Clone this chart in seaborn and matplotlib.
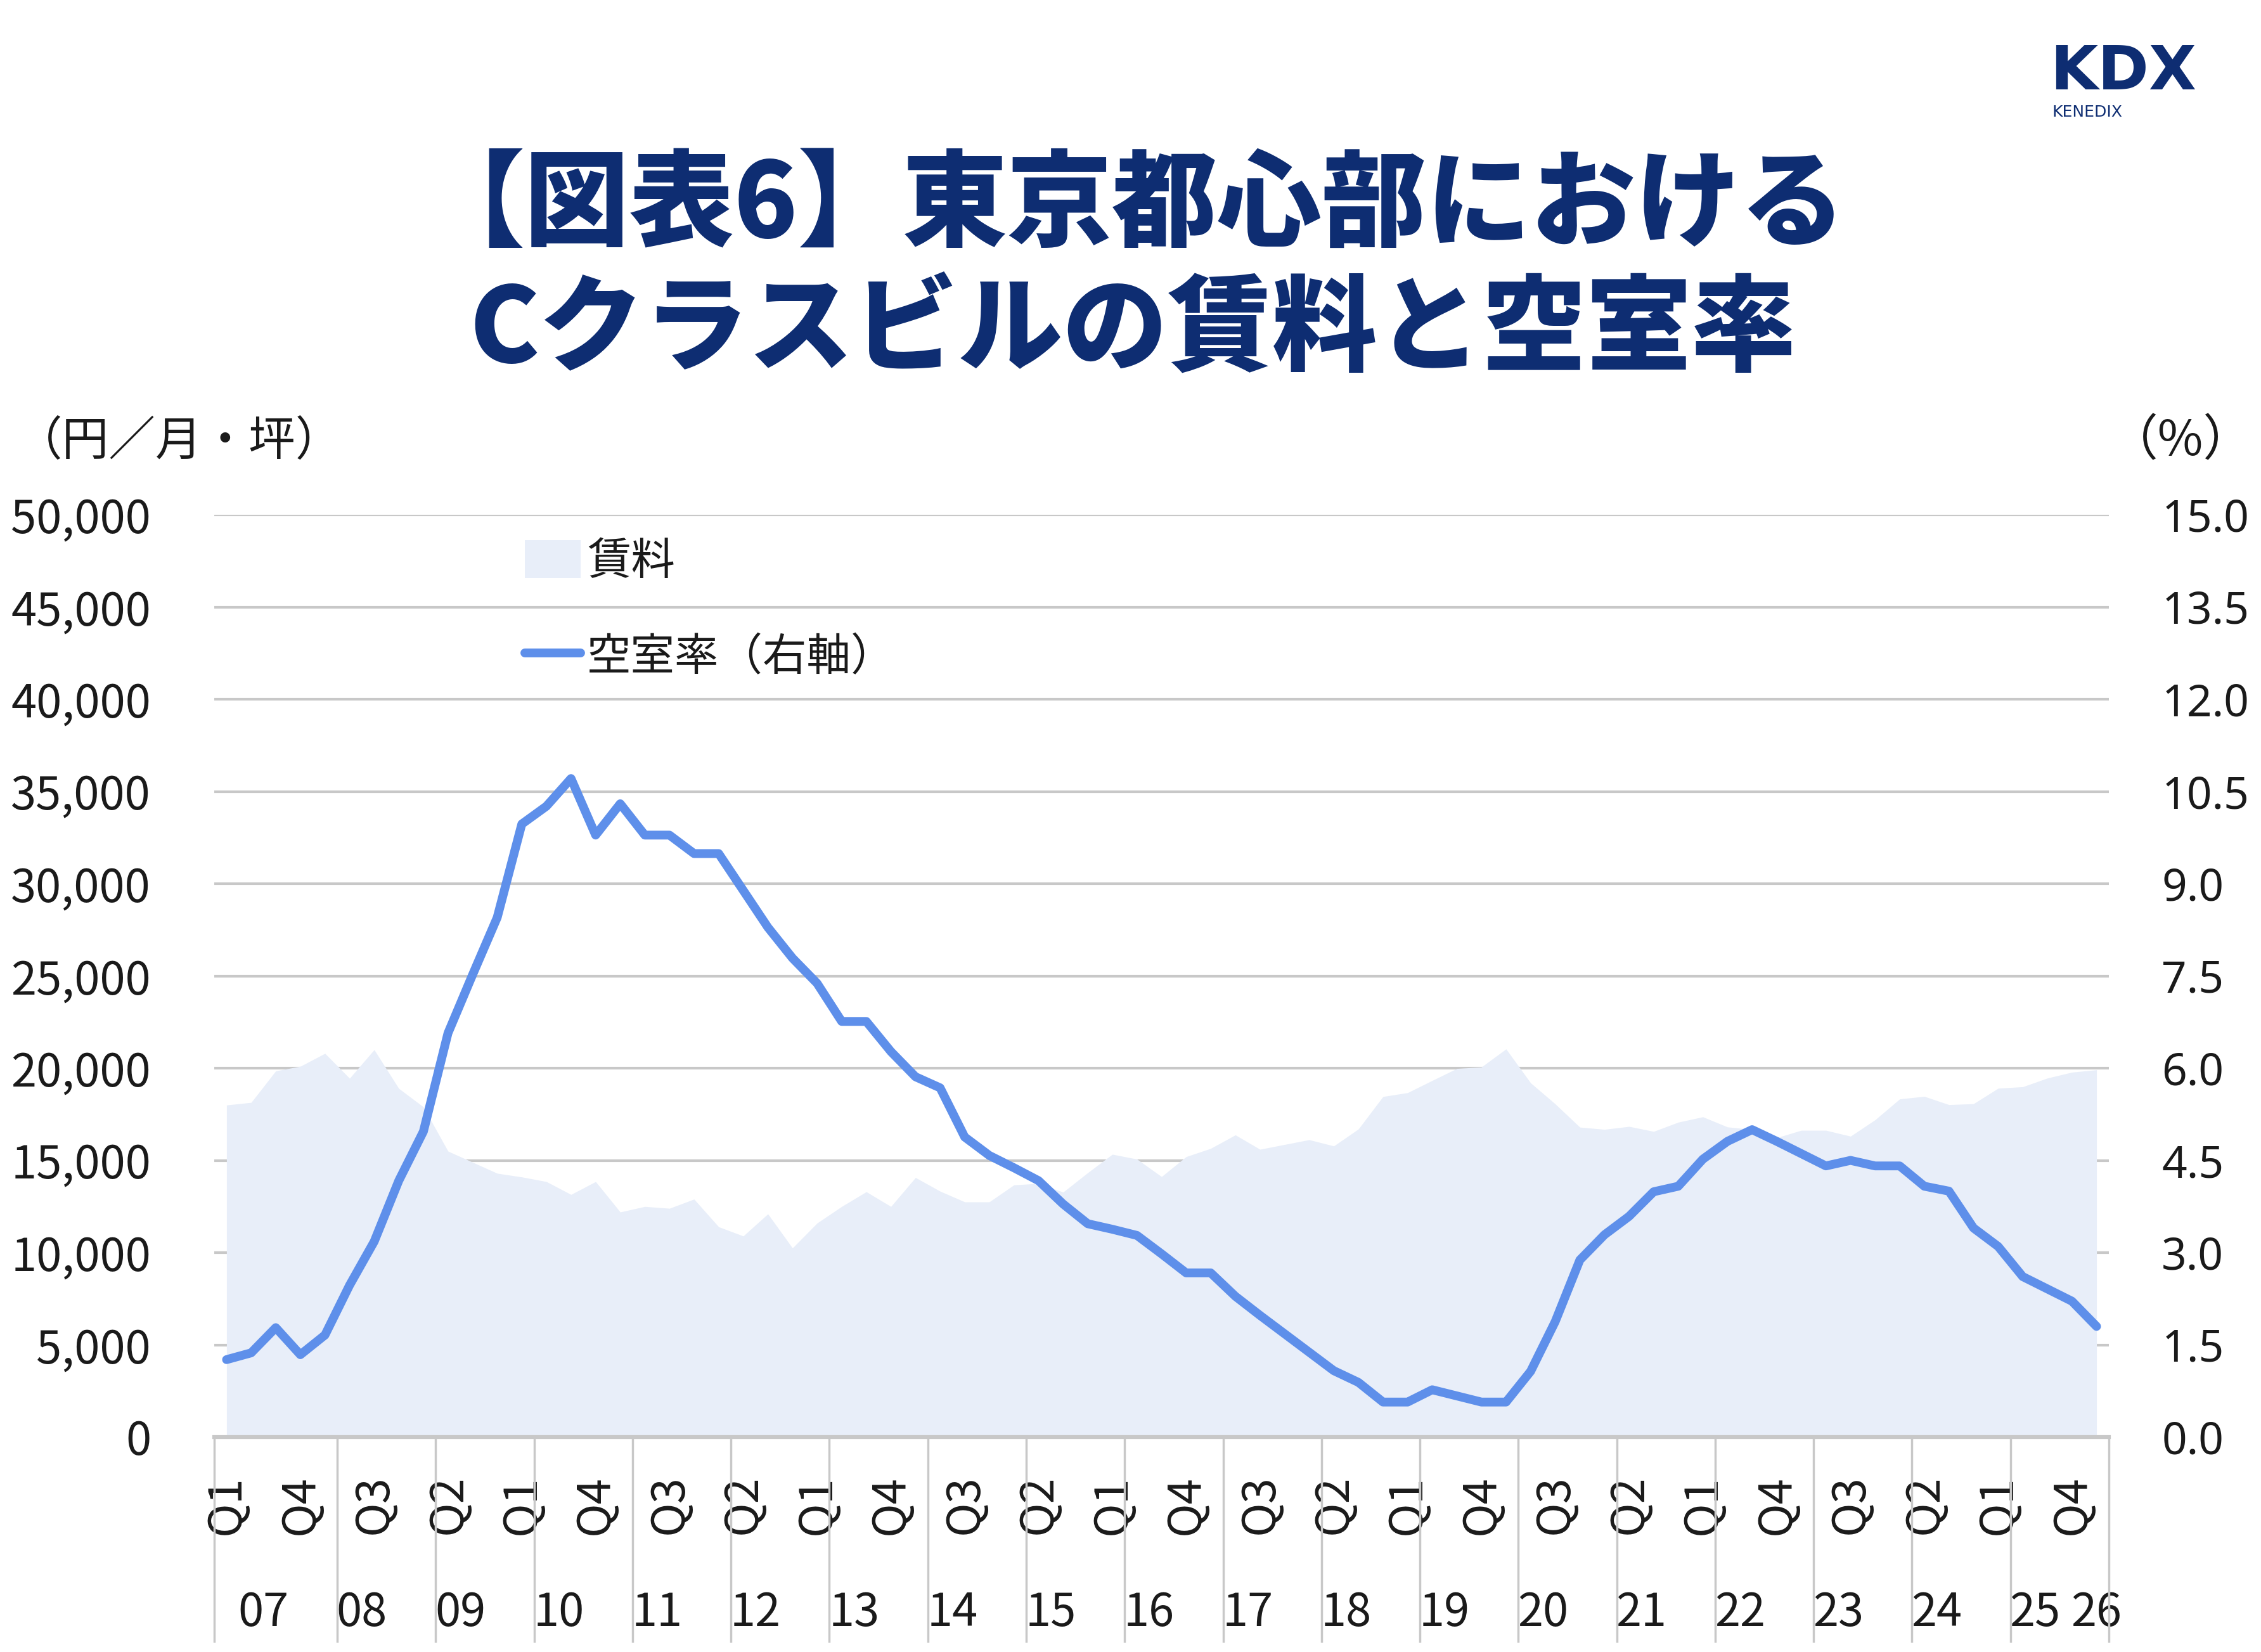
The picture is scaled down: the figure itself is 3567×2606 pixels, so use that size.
import matplotlib
matplotlib.use("Agg")
import matplotlib.pyplot as plt
from matplotlib.patches import Patch
from matplotlib.lines import Line2D
import seaborn as sns
import numpy as np
import pandas as pd

# ---------------- data ----------------
years = [f"{y:02d}" for y in range(7, 26) for _ in range(4)] + ["26"]
quarters = [f"Q{q}" for _ in range(7, 26) for q in range(1, 5)] + ["Q1"]

rent = [18000, 18140, 19850, 20100, 20800, 19450, 21000, 18900, 17900, 15500,
        14900, 14300, 14100, 13850, 13150, 13850, 12200, 12500, 12400, 12900,
        11400, 10900, 12100, 10250, 11600, 12500, 13300, 12500, 14070, 13330,
        12750, 12750, 13670, 13750, 13280, 14330, 15330, 15070, 14120, 15200,
        15650, 16380, 15600, 15860, 16120, 15780, 16700, 18460, 18670, 19330,
        19980, 20060, 21040, 19200, 18060, 16800, 16680, 16840, 16570, 17070,
        17360, 16810, 16680, 16230, 16630, 16630, 16310, 17200, 18330, 18470,
        18020, 18070, 18910, 18990, 19460, 19780, 19910]

vacancy = [1.26, 1.37, 1.78, 1.34, 1.66, 2.47, 3.18, 4.17, 4.97, 6.57,
           7.52, 8.45, 9.97, 10.26, 10.71, 9.79, 10.30, 9.79, 9.79, 9.49,
           9.49, 8.89, 8.29, 7.79, 7.38, 6.76, 6.76, 6.27, 5.86, 5.68,
           4.88, 4.58, 4.38, 4.17, 3.79, 3.47, 3.38, 3.28, 2.98, 2.67,
           2.67, 2.29, 1.98, 1.68, 1.38, 1.08, 0.89, 0.57, 0.57, 0.77,
           0.67, 0.57, 0.57, 1.07, 1.88, 2.88, 3.29, 3.59, 3.99, 4.08,
           4.52, 4.81, 5.00, 4.81, 4.61, 4.41, 4.50, 4.41, 4.41, 4.08,
           4.00, 3.40, 3.10, 2.61, 2.41, 2.21, 1.80]

left_ticks = list(range(0, 50001, 5000))
right_ticks = [i * 1.5 for i in range(11)]

title_lines = ["【図表6】東京都心部における", "Cクラスビルの賃料と空室率"]
label_rent = "賃料"
label_vac = "空室率（右軸）"

df = pd.DataFrame({"idx": np.arange(len(rent)), "year": years,
                   "quarter": quarters, "rent": rent, "vacancy": vacancy})

# ---------------- style ----------------
NAVY = "#0e2d72"
AREA = "#e8eef9"
LINE = "#5e8fea"
GRID = "#c8c8c8"
TXT = "#1a1a1a"

sns.set_theme(style="white")
plt.rcParams["font.family"] = ["Noto Sans CJK JP", "DejaVu Sans"]
plt.rcParams["text.color"] = TXT

W, H = 3567, 2606
fig = plt.figure(figsize=(W / 100, H / 100), dpi=100)
fig.patch.set_facecolor("white")

x0, x1, yb, yt = 338, 3327, 2267, 812
ax = fig.add_axes([x0 / W, 1 - yb / H, (x1 - x0) / W, (yb - yt) / H])
ax.set_facecolor("white")

# area (rent)
ax.fill_between(df["idx"], df["rent"], 0, color=AREA, linewidth=0, zorder=2)
ax.set_ylim(0, 50000)
ax.set_xlim(-0.5, len(df) - 0.5)
ax.set_yticks(left_ticks)
ax.set_yticklabels([f"{v:,}" for v in left_ticks])
ax.set_axisbelow(True)
ax.yaxis.grid(True, color=GRID, linewidth=3, zorder=0)
ax.xaxis.grid(False)
for s in ["top", "left", "right"]:
    ax.spines[s].set_visible(False)
ax.spines["bottom"].set_color(GRID)
ax.spines["bottom"].set_linewidth(4.5)
ax.tick_params(axis="y", length=0, pad=72, labelsize=52, labelcolor=TXT)

# quarter labels every 3 quarters
qpos = list(range(0, len(df), 3))
ax.set_xticks(qpos)
ax.set_xticklabels([df["quarter"][i] for i in qpos], rotation=90)
ax.tick_params(axis="x", length=0, pad=43, labelsize=52, labelcolor=TXT)

# year labels & separators
xt = ax.get_xaxis_transform()
for yr, grp in df.groupby("year", sort=False):
    ax.text(grp["idx"].mean(), -0.191, yr, transform=xt, ha="center",
            va="center", fontsize=52, color=TXT)
starts = df.groupby("year", sort=False)["idx"].min().tolist()
seps = [-0.5] + [s + 0.5 for s in starts[1:-1]] + [len(df) - 0.5]
ax.vlines(seps, -0.223, 0, transform=xt, colors=GRID, linewidth=2.5,
          clip_on=False, zorder=3)

# line (vacancy) on twin axis
ax2 = ax.twinx()
sns.lineplot(data=df, x="idx", y="vacancy", ax=ax2, color=LINE, linewidth=10,
             solid_capstyle="round", solid_joinstyle="round", legend=False)
ax2.set_ylim(0, 15)
ax2.set_xlim(-0.5, len(df) - 0.5)
ax2.set_yticks(right_ticks)
ax2.set_yticklabels([f"{v:.1f}" for v in right_ticks], fontfamily="Noto Sans")
ax2.tick_params(axis="y", length=0, pad=60, labelsize=50, labelcolor=TXT)
ax2.set_ylabel("")
ax2.set_xlabel("")
ax.set_xlabel("")
ax.set_ylabel("")
ax2.grid(False)
for s in ax2.spines.values():
    s.set_visible(False)

# axis unit labels
fig.text(283 / W, 1 - 697 / H, "（円／月・坪）", ha="center", va="center",
         fontsize=53, color=TXT)
fig.text(3440 / W, 1 - 697 / H, "（%）", ha="center", va="center",
         fontsize=56, color=TXT)

# legend
handles = [Patch(facecolor=AREA, edgecolor="none"),
           Line2D([], [], color=LINE, linewidth=10, solid_capstyle="round")]
fig.legend(handles, [label_rent, label_vac], loc="upper left",
           bbox_to_anchor=(828 / W, 1 - 850 / H), frameon=False, fontsize=50,
           handlelength=1.26, handleheight=0.95, handletextpad=0.15,
           labelspacing=1.15, borderpad=0, borderaxespad=0)

# title
fig.text(0.501, 1 - 326 / H, title_lines[0], ha="center", va="center",
         fontsize=119, fontweight="black", color=NAVY)
fig.text(0.501, 1 - 524 / H, title_lines[1], ha="center", va="center",
         fontsize=119, fontweight="black", color=NAVY)

# logo
fig.text(3234 / W, 1 - 141 / H, "KDX", ha="left", va="baseline", fontsize=70,
         fontweight="bold", family="DejaVu Sans", color=NAVY)
fig.text(3238 / W, 1 - 165 / H, "KENEDIX", ha="left", va="top",
         fontsize=18, family="DejaVu Sans", color=NAVY)

fig.savefig("out.png", dpi=100, facecolor="white")
